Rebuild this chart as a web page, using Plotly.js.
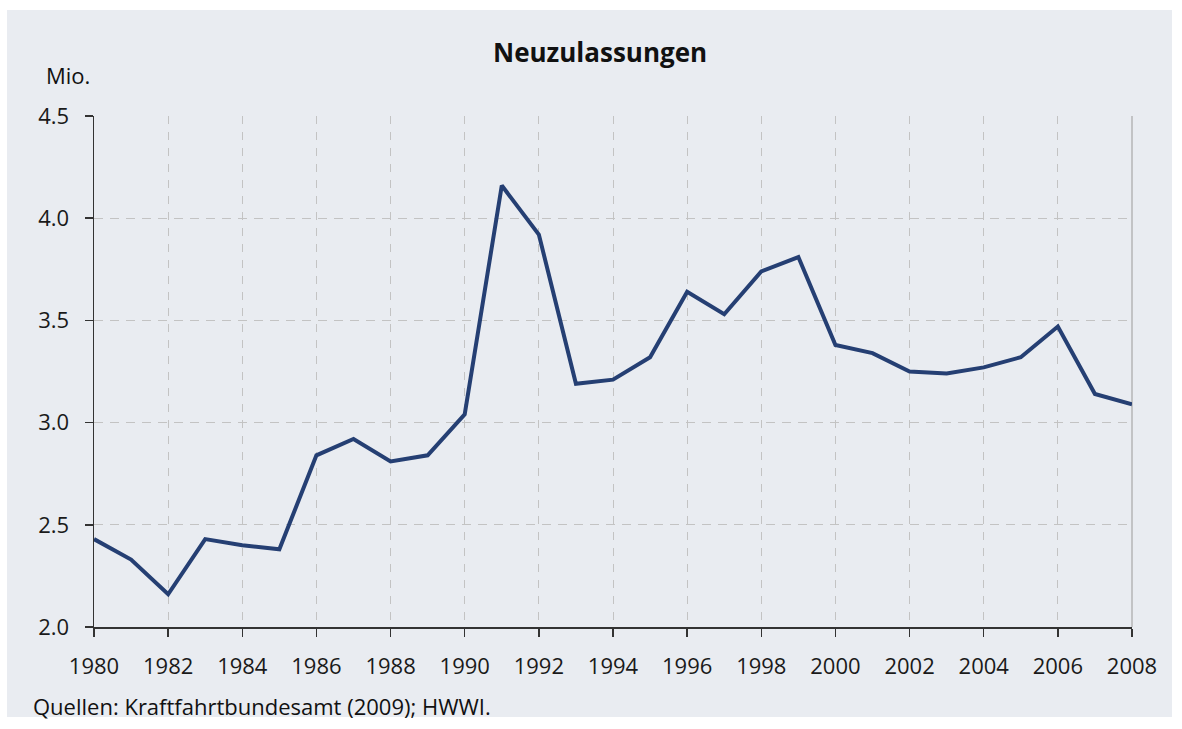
<!DOCTYPE html>
<html>
<head>
<meta charset="utf-8">
<script src="https://cdn.plot.ly/plotly-3.0.1.min.js"></script>
<style>html,body{margin:0;padding:0;background:#fff;}#chart{width:1182px;height:729px;}</style>
</head>
<body>
<div id="chart"></div>
<script>
const years = [1980,1981,1982,1983,1984,1985,1986,1987,1988,1989,1990,1991,1992,1993,1994,1995,1996,1997,1998,1999,2000,2001,2002,2003,2004,2005,2006,2007,2008];
const registrations = [2.43,2.33,2.16,2.43,2.40,2.38,2.84,2.92,2.81,2.84,3.04,4.16,3.92,3.19,3.21,3.32,3.64,3.53,3.74,3.81,3.38,3.34,3.25,3.24,3.27,3.32,3.47,3.14,3.09];
const titleText = "Neuzulassungen";
const unitText = "Mio.";
const sourceText = "Quellen: Kraftfahrtbundesamt (2009); HWWI.";

const W = 1038, H = 511;
const px = v => (v - 94) / W;
const py = v => (627 - v) / H;

const font = "Open Sans, Noto Sans, sans-serif";

Plotly.newPlot('chart', [{
  x: years, y: registrations, type: 'scatter', mode: 'lines',
  line: {color: '#253f73', width: 4}, hoverinfo: 'x+y'
}], {
  width: 1182, height: 729,
  margin: {l: 94, r: 50, t: 116, b: 102, pad: 0},
  paper_bgcolor: '#ffffff', plot_bgcolor: 'rgba(0,0,0,0)',
  showlegend: false,
  font: {family: font, color: '#1a1a1a', size: 22},
  xaxis: {
    range: [1980, 2008], tickmode: 'linear', tick0: 1980, dtick: 2,
    showgrid: true, gridcolor: '#c3c3c3', griddash: '8px,8px', gridwidth: 1,
    showline: true, linecolor: '#333', linewidth: 1.5,
    ticks: 'outside', ticklen: 8, tickcolor: '#333', tickwidth: 1.5,
    ticklabelstandoff: 11,
    zeroline: false, tickfont: {size: 22, family: font, color: '#1a1a1a'}, fixedrange: true
  },
  yaxis: {
    range: [2.0, 4.5], tickmode: 'linear', tick0: 2.0, dtick: 0.5, tickformat: '.1f',
    showgrid: true, gridcolor: '#c3c3c3', griddash: '9px,7px', gridwidth: 1,
    showline: true, linecolor: '#333', linewidth: 1.5,
    ticks: 'outside', ticklen: 8, tickcolor: '#333', tickwidth: 1.5,
    ticklabelstandoff: 11,
    zeroline: false, tickfont: {size: 22, family: font, color: '#1a1a1a'}, fixedrange: true
  },
  shapes: [
    {type: 'rect', xref: 'paper', yref: 'paper', x0: px(7), x1: px(1172), y0: py(717), y1: py(10),
     fillcolor: '#e9ecf1', line: {width: 0}, layer: 'below'},
    {type: 'line', xref: 'paper', yref: 'paper', x0: 1, x1: 1, y0: 0, y1: 1,
     line: {color: '#a8a8a8', width: 1.2}, layer: 'below'}
  ],
  annotations: [
    {text: '<b>' + titleText + '</b>', xref: 'paper', yref: 'paper', x: px(600), y: py(52),
     xanchor: 'center', yanchor: 'middle', showarrow: false, font: {size: 26, family: font, color: '#111'}},
    {text: unitText, xref: 'paper', yref: 'paper', x: px(44), y: py(75),
     xanchor: 'left', yanchor: 'middle', showarrow: false, font: {size: 22, family: font, color: '#111'}},
    {text: sourceText, xref: 'paper', yref: 'paper', x: px(31), y: py(706),
     xanchor: 'left', yanchor: 'middle', showarrow: false, font: {size: 22, family: font, color: '#111'}}
  ]
}, {displayModeBar: false, staticPlot: true});
</script>
</body>
</html>
